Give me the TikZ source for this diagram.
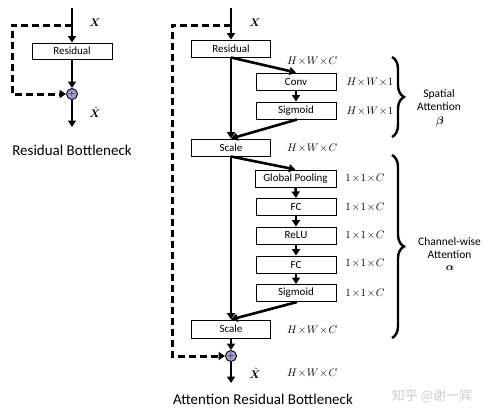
\documentclass[tikz,border=0pt]{standalone}
\usepackage{fontspec}
\usepackage{bm}
\setsansfont{Carlito}
\newfontfamily\cjkfont{Noto Sans CJK SC}
\usetikzlibrary{arrows.meta,decorations.pathreplacing}
\begin{document}
\begin{tikzpicture}[x=1pt,y=-1pt,
  box/.style={draw,line width=1pt,minimum height=17pt,inner sep=0pt,font=\sffamily\fontsize{11}{12}\selectfont},
  wbox/.style={box,minimum width=80pt},
  arr/.style={line width=2.6pt,-{Triangle[length=6.5pt,width=8pt]}},
  dsh/.style={line width=3pt,dash pattern=on 7pt off 4pt,-{Triangle[length=6.5pt,width=8pt]}},
  plus/.style={circle,draw,line width=0.9pt,fill=blue!35!gray!55,minimum size=11pt,inner sep=0pt,font=\fontsize{10}{10}\selectfont},
  lbl/.style={font=\fontsize{11}{11}\selectfont,inner sep=0pt},
  brc/.style={line width=2.4pt,decorate,decoration={brace,amplitude=12pt}},
  txt/.style={font=\sffamily\fontsize{11.5}{13.5}\selectfont,align=center,inner sep=0pt}
]
\useasboundingbox (0,0) rectangle (490,416);
% ---- left diagram
\coordinate (lin) at (72,8);
\coordinate (lsplit) at (72,25);
\coordinate (lc1) at (12,25);
\coordinate (lc2) at (12,94);
\node[wbox,minimum width=80pt,minimum height=16pt] (lres) at (72,51) {Residual};
\node[plus] (lplus) at (72,94) {$+$};
\coordinate (lout) at (72,127);
\draw[arr] (lin) -- (lres.north);
\draw[arr] (lres.south) -- (lplus.north);
\draw[arr] (lplus.south) -- (lout);
\draw[dsh] (lsplit) -- (lc1) -- (lc2) -- (lplus.west);
\node[lbl] (lx) at (95,23) {$\bm{X}$};
\node[lbl] (lxt) at (95,112) {$\tilde{\bm{X}}$};
\node[font=\sffamily\fontsize{15}{16}\selectfont,inner sep=0pt] (ltitle) at (72,150) {Residual Bottleneck};
% ---- right diagram
\coordinate (rin) at (231,8);
\coordinate (rsplit) at (231,25);
\coordinate (rc1) at (172,25);
\coordinate (rc2) at (172,356);
\node[wbox,minimum width=79pt] (rres) at (231,48.5) {Residual};
\node[wbox] (conv) at (296,81.5) {Conv};
\node[wbox] (sig1) at (296,110.5) {Sigmoid};
\node[wbox,minimum width=79pt] (scale1) at (231,147.5) {Scale};
\node[wbox,minimum width=81pt] (gp) at (295.5,178.5) {Global Pooling};
\node[wbox] (fc1) at (296,207) {FC};
\node[wbox] (relu) at (296,235.5) {ReLU};
\node[wbox] (fc2) at (296,264.5) {FC};
\node[wbox] (sig2) at (296,293) {Sigmoid};
\node[wbox,minimum width=79pt,minimum height=18pt] (scale2) at (231,329) {Scale};
\node[plus] (rplus) at (231,356) {$+$};
\coordinate (rout) at (231,383);
\draw[arr] (rin) -- (rres.north);
\draw[arr] (rres.south) -- (scale1.north);
\draw[arr] (rres.south) -- (conv.north);
\draw[arr] (conv.south) -- (sig1.north);
\draw[arr] ([xshift=1pt]sig1.south) -- (scale1.north);
\draw[arr] (scale1.south) -- (scale2.north);
\draw[arr] (scale1.south) -- (gp.north);
\draw[arr] (gp.south) -- (fc1.north);
\draw[arr] (fc1.south) -- (relu.north);
\draw[arr] (relu.south) -- (fc2.north);
\draw[arr] (fc2.south) -- (sig2.north);
\draw[arr] ([xshift=1pt]sig2.south) -- (scale2.north);
\draw[arr] (scale2.south) -- (rplus.north);
\draw[arr] (rplus.south) -- (rout);
\draw[dsh] (rsplit) -- (rc1) -- (rc2) -- (rplus.west);
\node[lbl] (rx) at (255,23) {$\bm{X}$};
\node[lbl] (rxt) at (255,373) {$\tilde{\bm{X}}$};
% dimension labels
\node[lbl,anchor=west] (d1) at (287,61) {$H\!\times\! W\!\times\! C$};
\node[lbl] (d2) at (370,82) {$H\!\times\! W\!\times\! 1$};
\node[lbl] (d3) at (370,111) {$H\!\times\! W\!\times\! 1$};
\node[lbl,anchor=west] (d4) at (287,148) {$H\!\times\! W\!\times\! C$};
\node[lbl] (d5) at (365,178) {$1\!\times\! 1\!\times\! C$};
\node[lbl] (d6) at (365,207) {$1\!\times\! 1\!\times\! C$};
\node[lbl] (d7) at (365,235) {$1\!\times\! 1\!\times\! C$};
\node[lbl] (d8) at (365,263) {$1\!\times\! 1\!\times\! C$};
\node[lbl] (d9) at (365,293) {$1\!\times\! 1\!\times\! C$};
\node[lbl,anchor=west] (d10) at (287,330) {$H\!\times\! W\!\times\! C$};
\node[lbl,anchor=west] (d11) at (287,373) {$H\!\times\! W\!\times\! C$};
% braces
\coordinate (b1a) at (392,57);
\coordinate (b1b) at (392,137);
\coordinate (b2a) at (392,155);
\coordinate (b2b) at (392,338);
\draw[brc] (b1a) -- (b1b);
\draw[brc] (b2a) -- (b2b);
\node[txt,anchor=west] (sp) at (417,100) {Spatial\\Attention};
\node[lbl] (beta) at (440,122) {$\bm{\beta}$};
\node[txt,anchor=west] (ch) at (418,248) {Channel-wise\\Attention};
\node[lbl] (alpha) at (450,268) {$\bm{\alpha}$};
\node[font=\sffamily\fontsize{15}{16}\selectfont,inner sep=0pt] (rtitle) at (263,399) {Attention Residual Bottleneck};
\node[font=\cjkfont\fontsize{13}{13}\selectfont,text=gray!40,inner sep=0pt] (wm) at (432,396) {知乎 @谢一宾};
\end{tikzpicture}
\end{document}
